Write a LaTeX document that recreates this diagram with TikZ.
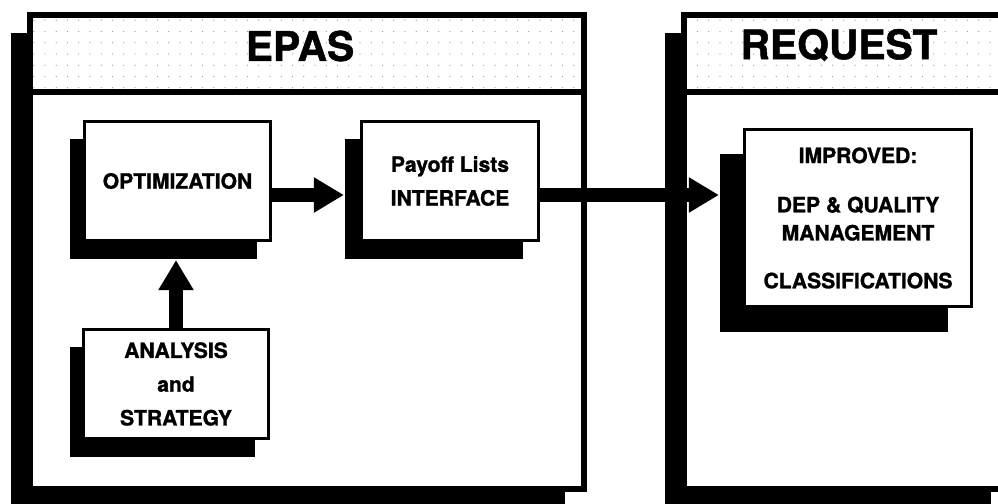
\documentclass[tikz,border=0pt]{standalone}
\usepackage{fontspec}
\setmainfont{TeX Gyre Heros}[BoldFeatures={FakeBold=1.2}]
\usepackage{tikz}
\usetikzlibrary{arrows.meta, positioning, shadows, patterns.meta}

\tikzset{
  boxshadow/.style 2 args={drop shadow={shadow xshift=#1, shadow yshift=#2, fill=black, opacity=1}},
  panel/.style={draw, line width=4.3pt, fill=white, minimum width=13.85cm, minimum height=11.85cm,
    boxshadow={-0.47cm}{-0.45cm}},
  head/.style={draw, line width=4.3pt, minimum height=1.925cm,
    pattern={Dots[distance=8pt,radius=0.45pt]}, pattern color=black!40},
  title/.style={font=\fontsize{29}{34}\selectfont\bfseries, inner sep=0pt},
  box/.style={draw, line width=2.2pt, fill=white, align=center, inner sep=0pt,
    font=\fontsize{15}{24}\selectfont\bfseries},
  flow/.style={line width=10pt, -{Triangle[length=0.75cm,width=0.83cm]}},
}

\begin{document}
\begin{tikzpicture}[x=0.025cm, y=-0.025cm]
\useasboundingbox (0,0) rectangle (998,504);
\clip (0,0) rectangle (998,504);
% the two panels with their title bars
\node[panel] (epas) at (307,252) {};
\node[head, minimum width=13.85cm] (epashead) at (307,53.5) {};
\node[title] (epastitle) at (300,46) {EPAS};
\node[panel, minimum width=8.15cm] (request) at (847,252) {};
\node[head, minimum width=8.15cm] (requesthead) at (847,53.5) {};
\node[title] (requesttitle) at (839,45) {REQUEST};
% boxes
\node[box, boxshadow={-0.35cm}{-0.45cm}, minimum width=4.65cm, minimum height=2.975cm] (opt) at (177.5,181) {OPTIMIZATION};
\node[box, boxshadow={-0.4cm}{-0.45cm}, minimum width=4.425cm, minimum height=2.975cm] (payoff) at (450,181) {Payoff Lists\\INTERFACE};
\node[box, boxshadow={-0.33cm}{-0.45cm}, minimum width=4.625cm, minimum height=2.725cm] (analysis) at (176,384) {ANALYSIS\\and\\STRATEGY};
\node[box, boxshadow={-0.6cm}{-0.625cm}, minimum width=5.675cm, minimum height=4.425cm,
  font=\fontsize{15}{20}\selectfont\bfseries]
  (improved) at (858,218) {IMPROVED:\\[15pt]DEP \& QUALITY\\MANAGEMENT\\[14pt]CLASSIFICATIONS};
% arrows
\coordinate (lvl) at ([yshift=-0.35cm]opt.east);
\coordinate (lvl2) at ([yshift=-0.35cm]payoff.east);
\draw[flow] (lvl) -- ([xshift=-0.4cm]lvl -| payoff.west);
\draw[flow] (lvl2) -- ([xshift=-0.6cm]lvl2 -| improved.west);
\draw[flow] (analysis.north) -- ([yshift=-0.45cm]opt.south -| analysis.north);
\end{tikzpicture}
\end{document}
